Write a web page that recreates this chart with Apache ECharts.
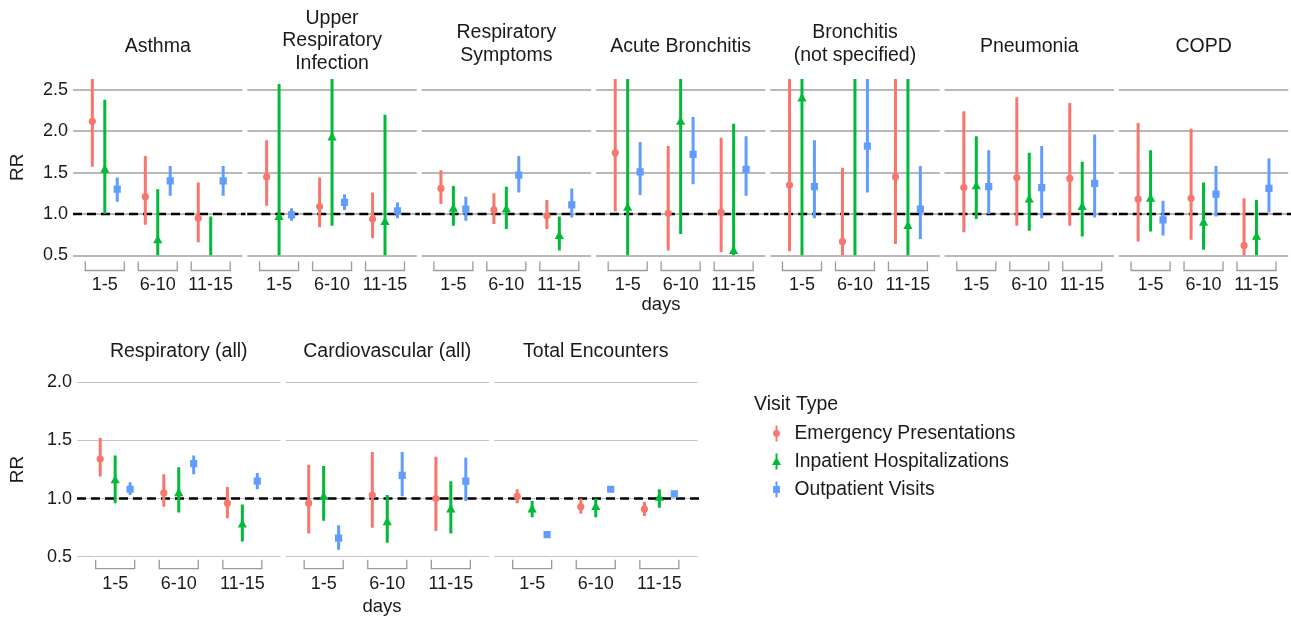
<!DOCTYPE html>
<html><head><meta charset="utf-8">
<script src="https://cdn.jsdelivr.net/npm/echarts@6/dist/echarts.min.js"></script>
<style>html,body{margin:0;padding:0;background:#fff}#c{width:1291px;height:620px}</style>
</head><body><div id="c"></div>
<script>
// ---- data ----
const groups = ['1-5', '6-10', '11-15'];
const visitTypes = ['Emergency Presentations', 'Inpatient Hospitalizations', 'Outpatient Visits'];
const topTitles = ['Asthma', 'Upper\nRespiratory\nInfection', 'Respiratory\nSymptoms', 'Acute Bronchitis', 'Bronchitis\n(not specified)', 'Pneumonia', 'COPD'];
const bottomTitles = ['Respiratory (all)', 'Cardiovascular (all)', 'Total Encounters'];
const topTicks = [0.5, 1.0, 1.5, 2.0, 2.5];
const bottomTicks = [0.5, 1.0, 1.5, 2.0];

// each entry: [estimate, lower, upper] for 1-5, 6-10, 11-15 days
const asthmaED = [[2.12, 1.57, 2.90], [1.21, 0.87, 1.70], [0.95, 0.66, 1.38]];
const asthmaIP = [[1.54, 1.00, 2.38], [0.69, 0.35, 1.30], [0.42, 0.20, 0.97]];
const asthmaOP = [[1.30, 1.15, 1.44], [1.40, 1.22, 1.58], [1.40, 1.22, 1.58]];
const uriED = [[1.45, 1.10, 1.89], [1.09, 0.84, 1.44], [0.94, 0.71, 1.26]];
const uriIP = [[0.97, 0.30, 2.57], [1.93, 0.86, 3.00], [0.91, 0.35, 2.20]];
const uriOP = [[0.99, 0.92, 1.07], [1.14, 1.05, 1.24], [1.04, 0.95, 1.14]];
const respSymED = [[1.31, 1.12, 1.53], [1.05, 0.88, 1.25], [0.98, 0.82, 1.17]];
const respSymIP = [[1.07, 0.86, 1.34], [1.06, 0.82, 1.33], [0.74, 0.56, 0.97]];
const respSymOP = [[1.06, 0.92, 1.21], [1.47, 1.26, 1.70], [1.11, 0.96, 1.31]];
const acuteBrED = [[1.74, 1.03, 3.00], [1.01, 0.56, 1.82], [1.02, 0.54, 1.92]];
const acuteBrIP = [[1.08, 0.30, 3.50], [2.12, 0.76, 5.00], [0.56, 0.20, 2.09]];
const acuteBrOP = [[1.51, 1.23, 1.87], [1.72, 1.36, 2.17], [1.54, 1.22, 1.94]];
const bronchED = [[1.35, 0.55, 3.20], [0.67, 0.30, 1.56], [1.45, 0.64, 3.20]];
const bronchIP = [[2.40, 0.30, 8.00], [2.90, 0.40, 10.0], [0.86, 0.20, 4.00]];
const bronchOP = [[1.33, 0.95, 1.89], [1.82, 1.26, 2.80], [1.06, 0.70, 1.58]];
const pneuED = [[1.32, 0.78, 2.24], [1.44, 0.86, 2.41], [1.43, 0.86, 2.34]];
const pneuIP = [[1.34, 0.94, 1.94], [1.18, 0.80, 1.74], [1.09, 0.73, 1.63]];
const pneuOP = [[1.33, 1.00, 1.77], [1.32, 0.95, 1.82], [1.37, 0.96, 1.96]];
const copdED = [[1.18, 0.67, 2.10], [1.19, 0.69, 2.03], [0.62, 0.32, 1.19]];
const copdIP = [[1.19, 0.79, 1.77], [0.90, 0.57, 1.38], [0.73, 0.45, 1.17]];
const copdOP = [[0.93, 0.74, 1.16], [1.24, 0.97, 1.58], [1.31, 1.02, 1.67]];
const respAllED = [[1.34, 1.19, 1.52], [1.05, 0.93, 1.21], [0.96, 0.83, 1.10]];
const respAllIP = [[1.16, 0.96, 1.37], [1.05, 0.88, 1.27], [0.78, 0.63, 0.95]];
const respAllOP = [[1.08, 1.03, 1.14], [1.30, 1.21, 1.37], [1.15, 1.08, 1.22]];
const cardioED = [[0.96, 0.70, 1.29], [1.03, 0.75, 1.40], [1.00, 0.72, 1.36]];
const cardioIP = [[1.02, 0.81, 1.28], [0.80, 0.62, 1.03], [0.91, 0.70, 1.15]];
const cardioOP = [[0.66, 0.56, 0.77], [1.20, 1.02, 1.40], [1.15, 0.98, 1.35]];
const totalED = [[1.02, 0.96, 1.08], [0.93, 0.87, 1.00], [0.91, 0.85, 0.97]];
const totalIP = [[0.91, 0.84, 0.98], [0.93, 0.84, 1.00], [1.01, 0.92, 1.08]];
const totalOP = [[0.69, 0.68, 0.70], [1.08, 1.07, 1.10], [1.04, 1.03, 1.06]];

const topData = [
  [asthmaED, asthmaIP, asthmaOP], [uriED, uriIP, uriOP], [respSymED, respSymIP, respSymOP],
  [acuteBrED, acuteBrIP, acuteBrOP], [bronchED, bronchIP, bronchOP], [pneuED, pneuIP, pneuOP],
  [copdED, copdIP, copdOP]
];
const bottomData = [[respAllED, respAllIP, respAllOP], [cardioED, cardioIP, cardioOP], [totalED, totalIP, totalOP]];

// ---- styling / layout ----
const colors = ['#F8766D', '#00BA38', '#619CFF'];
const dodge = [-0.235, 0, 0.235];
const FONT = 'Liberation Sans, Arial, Helvetica, sans-serif';
const rows = [
  { titles: topTitles, data: topData, ticks: topTicks, yMin: 0.5, yMax: 2.63, showMax: false, left0: 73, step: 174.3, width: 169.5,
    top: 79, height: 176.5, gridColor: '#b9b9b9', gridWidth: 2, brTop: 6, brBot: 15, labelMargin: 21, titleY: 47, nameGap: 46 },
  { titles: bottomTitles, data: bottomData, ticks: bottomTicks, yMin: 0.5, yMax: 2.0, showMax: true, left0: 77, step: 208.5, width: 203.5,
    top: 382.3, height: 174.4, gridColor: '#c4c4c4', gridWidth: 1.2, brTop: 3, brBot: 12, labelMargin: 18, titleY: 352, nameGap: 50 }
];

const grids = [], xAxes = [], yAxes = [], series = [], graphics = [];
let gi = 0;
rows.forEach((row, r) => {
  row.titles.forEach((title, p) => {
    const left = row.left0 + p * row.step;
    grids.push({ left: left, top: row.top, width: row.width, height: row.height, containLabel: false });
    xAxes.push({
      gridIndex: gi, type: 'value', min: 0.4, max: 3.6,
      axisLine: { show: false }, axisTick: { show: false }, splitLine: { show: false },
      axisLabel: { customValues: [1, 2, 3], formatter: v => groups[Math.round(v) - 1] || '',
        margin: row.labelMargin, fontSize: 18, color: '#1a1a1a', fontFamily: FONT }
    });
    yAxes.push({
      gridIndex: gi, type: 'value', min: row.yMin, max: row.yMax, interval: 0.5,
      axisLine: { show: false }, axisTick: { show: false },
      splitLine: { show: true, showMaxLine: row.showMax, lineStyle: { color: row.gridColor, width: row.gridWidth } },
      axisLabel: { show: p === 0, customValues: row.ticks, formatter: v => v.toFixed(1),
        fontSize: 18, color: '#1a1a1a', margin: 5, fontFamily: FONT },
      name: p === 0 ? 'RR' : '', nameLocation: 'middle', nameRotate: 90, nameGap: row.nameGap,
      nameTextStyle: { fontSize: 19, color: '#1a1a1a', fontFamily: FONT }
    });
    // facet title
    const nLines = title.split('\n').length;
    graphics.push({ type: 'text', silent: true,
      x: left + row.width / 2, y: row.titleY - 3 * (nLines - 1),
      style: { text: title, fontSize: 19.5, lineHeight: 22.5, fill: '#1a1a1a', fontFamily: FONT, align: 'center', verticalAlign: 'middle' } });
    // reference line + brackets
    const yMin = row.yMin, yMax = row.yMax;
    series.push({
      type: 'custom', name: 'frame' + gi, xAxisIndex: gi, yAxisIndex: gi, clip: false, z: 1, silent: true,
      data: groups.map((g, i) => [i + 1, 1.0]),
      encode: { x: 0, y: 1 },
      renderItem: (params, api) => {
        const cs = params.coordSys;
        const cx = api.coord([api.value(0), yMin])[0];
        const yb = cs.y + cs.height;
        const children = [{ type: 'polyline', shape: { points: [[cx - 19.5, yb + row.brTop], [cx - 19.5, yb + row.brBot], [cx + 19.5, yb + row.brBot], [cx + 19.5, yb + row.brTop]] },
          style: { stroke: '#9a9a9a', lineWidth: 1.3, fill: null } }];
        if (params.dataIndex === 0) {
          const y1 = api.coord([0.4, api.value(1)])[1];
          children.push({ type: 'line', shape: { x1: cs.x, y1: y1, x2: cs.x + cs.width + 3, y2: y1 },
            style: { stroke: '#000', lineWidth: 2.5, lineDash: [9, 5] } });
        }
        return { type: 'group', children };
      }
    });
    // error bars
    row.data[p].forEach((vals, v) => {
      series.push({
        type: 'custom', name: visitTypes[v], xAxisIndex: gi, yAxisIndex: gi, z: 3, clip: true,
        itemStyle: { color: colors[v] },
        data: vals.map((d, i) => [i + 1 + dodge[v], d[0], d[1], d[2]]),
        encode: { x: 0, y: 1 },
        renderItem: (params, api) => {
          const x = api.value(0), est = api.value(1);
          const lo = Math.max(api.value(2), yMin), hi = Math.min(api.value(3), yMax);
          const p1 = api.coord([x, lo]), p2 = api.coord([x, hi]);
          const children = [{ type: 'line', shape: { x1: p1[0], y1: p1[1], x2: p2[0], y2: p2[1] },
            style: { stroke: colors[v], lineWidth: 3 } }];
          if (est >= yMin && est <= yMax) {
            const c = api.coord([x, est]);
            if (v === 0) children.push({ type: 'circle', shape: { cx: c[0], cy: c[1], r: 3.6 }, style: { fill: colors[v] } });
            else if (v === 1) children.push({ type: 'polygon', shape: { points: [[c[0], c[1] - 5], [c[0] - 4.6, c[1] + 3.4], [c[0] + 4.6, c[1] + 3.4]] }, style: { fill: colors[v] } });
            else children.push({ type: 'rect', shape: { x: c[0] - 3.6, y: c[1] - 3.6, width: 7.2, height: 7.2 }, style: { fill: colors[v] } });
          }
          return { type: 'group', children };
        }
      });
    });
    gi++;
  });
});

// axis titles
graphics.push({ type: 'text', x: 661, y: 305, silent: true,
  style: { text: 'days', fontSize: 18.5, fill: '#1a1a1a', fontFamily: FONT, align: 'center', verticalAlign: 'middle' } });
graphics.push({ type: 'text', x: 382, y: 607, silent: true,
  style: { text: 'days', fontSize: 18.5, fill: '#1a1a1a', fontFamily: FONT, align: 'center', verticalAlign: 'middle' } });
graphics.push({ type: 'text', x: 754, y: 405, silent: true,
  style: { text: 'Visit Type', fontSize: 19.5, fill: '#1a1a1a', fontFamily: FONT, align: 'left', verticalAlign: 'middle' } });

const icons = [
  'path://M4,0 L6,0 L6,16 L4,16 Z M5,4.6 A3.4,3.4 0 1 1 5,11.4 A3.4,3.4 0 1 1 5,4.6 Z',
  'path://M4,0 L6,0 L6,16 L4,16 Z M5,3.5 L9.5,11.5 L0.5,11.5 Z',
  'path://M4,0 L6,0 L6,16 L4,16 Z M1.6,4.6 L8.4,4.6 L8.4,11.4 L1.6,11.4 Z'
];

const chart = echarts.init(document.getElementById('c'), null, { renderer: 'canvas' });
chart.setOption({
  animation: false,
  backgroundColor: '#fff',
  textStyle: { fontFamily: FONT },
  grid: grids, xAxis: xAxes, yAxis: yAxes, series: series, graphic: graphics,
  legend: {
    orient: 'vertical', left: 767, top: 419, itemWidth: 10, itemHeight: 16, itemGap: 9,
    data: visitTypes.map((n, i) => ({ name: n, icon: icons[i] })),
    textStyle: { fontSize: 19.3, color: '#1a1a1a', fontFamily: FONT, padding: [0, 0, 0, 8] },
    selectedMode: false
  }
});
</script></body></html>
